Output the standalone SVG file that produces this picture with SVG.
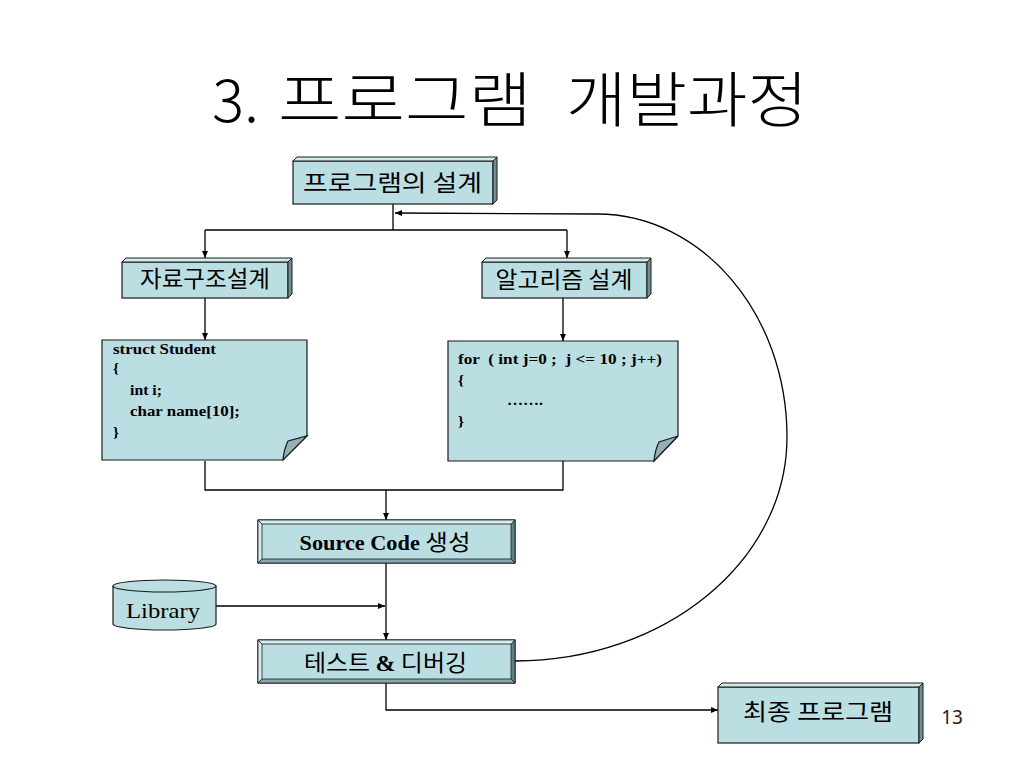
<svg xmlns="http://www.w3.org/2000/svg" width="1024" height="768" viewBox="0 0 1024 768">
<defs>
<marker id="arr" markerUnits="userSpaceOnUse" markerWidth="8" markerHeight="6" refX="7" refY="3" orient="auto">
<path d="M0,0 L7,3 L0,6 z" fill="#000"/>
</marker>
<style>
.face{fill:#BBDEE3;stroke:#1a1a1a;stroke-width:1.2}
.ctop{fill:#D3EAED;stroke:#1a1a1a;stroke-width:1}
.cside{fill:#6E8E93;stroke:#1a1a1a;stroke-width:1}
.blight{fill:#D7EDF0;stroke:#1a1a1a;stroke-width:0.8}
.bdark{fill:#5F7F84;stroke:#1a1a1a;stroke-width:0.8}
.bmid{fill:#89A8AD;stroke:#1a1a1a;stroke-width:0.8}
.flap{fill:#94B0B4;stroke:#1a1a1a;stroke-width:1.2}
.kr{font-family:"Noto Sans CJK KR","Noto Sans",sans-serif;font-size:23px;fill:#000}
.code{font-family:"Liberation Serif",serif;font-weight:bold;font-size:15px;fill:#000}
.ln{fill:none;stroke:#000;stroke-width:1.3}
.title{font-family:"Noto Sans CJK KR","Noto Sans",sans-serif;font-size:60px;font-weight:300;fill:#000}
</style>
</defs>
<rect width="1024" height="768" fill="#fff"/>
<g id="title">
<text class="title" x="212" y="122">3.</text>
<text class="title" x="278" y="122" textLength="254" lengthAdjust="spacingAndGlyphs">프로그램</text>
<text class="title" x="566" y="122" textLength="242" lengthAdjust="spacingAndGlyphs">개발과정</text>
</g>

<g id="connectors">
<path class="ln" d="M393,204 V230"/>
<path class="ln" d="M205,230 H567"/>
<path class="ln" d="M205,230 V258" marker-end="url(#arr)"/>
<path class="ln" d="M567,230 V258" marker-end="url(#arr)"/>
<path class="ln" d="M205,298 V340" marker-end="url(#arr)"/>
<path class="ln" d="M563,298 V341" marker-end="url(#arr)"/>
<path class="ln" d="M205,461 V490 H563 V461"/>
<path class="ln" d="M386,490 V520" marker-end="url(#arr)"/>
<path class="ln" d="M216,606 H385" marker-end="url(#arr)"/>
<path class="ln" d="M386,563 V640" marker-end="url(#arr)"/>
<path class="ln" d="M386,683 V710 H718" marker-end="url(#arr)"/>
<path class="ln" d="M515,661 C665,661 787,561 787,437 C787,314 702,214 597,214 L395,213" marker-end="url(#arr)"/>
</g>

<g id="node-design">
<rect class="face" x="293" y="161" width="200" height="43"/>
<polygon class="ctop" points="293,161 297,157 497,157 493,161"/>
<polygon class="cside" points="493,161 497,157 497,200 493,204"/>
<text class="kr" x="392.5" y="191" text-anchor="middle" textLength="179" lengthAdjust="spacingAndGlyphs">프로그램의 설계</text>
</g>

<g id="node-data">
<rect class="face" x="122" y="262" width="166" height="36"/>
<polygon class="ctop" points="122,262 126,258 292,258 288,262"/>
<polygon class="cside" points="288,262 292,258 292,294 288,298"/>
<text class="kr" x="205" y="287" text-anchor="middle" textLength="130" lengthAdjust="spacingAndGlyphs">자료구조설계</text>
</g>

<g id="node-algo">
<rect class="face" x="482" y="262" width="165" height="36"/>
<polygon class="ctop" points="482,262 486,258 651,258 647,262"/>
<polygon class="cside" points="647,262 651,258 651,294 647,298"/>
<text class="kr" x="564" y="288" text-anchor="middle" textLength="137" lengthAdjust="spacingAndGlyphs">알고리즘 설계</text>
</g>

<g id="note-struct">
<path class="face" d="M102,340 H307 V436 L283,460 H102 Z"/>
<path class="flap" d="M283,460 Q284,449 288,441 L307,436 Z"/>
<text class="code" x="113" y="354" textLength="103" lengthAdjust="spacingAndGlyphs">struct Student</text>
<text class="code" x="113" y="373">{</text>
<text class="code" x="130" y="395" textLength="32" lengthAdjust="spacingAndGlyphs">int i;</text>
<text class="code" x="130" y="416" textLength="110" lengthAdjust="spacingAndGlyphs">char name[10];</text>
<text class="code" x="113" y="437">}</text>
</g>

<g id="note-for">
<path class="face" d="M448,341 H678 V436 L654,461 H448 Z"/>
<path class="flap" d="M654,461 Q655,450 659,442 L678,436 Z"/>
<text class="code" x="458" y="364" textLength="204" lengthAdjust="spacingAndGlyphs" xml:space="preserve">for  ( int j=0 ;  j &lt;= 10 ; j++)</text>
<text class="code" x="458" y="385">{</text>
<text class="code" x="507" y="405" textLength="36" lengthAdjust="spacingAndGlyphs">…….</text>
<text class="code" x="458" y="426">}</text>
</g>

<g id="node-source">
<rect class="face" x="258" y="520" width="257" height="43"/>
<polygon class="blight" points="258,520 515,520 511,524 262,524"/>
<polygon class="blight" points="258,520 262,524 262,559 258,563"/>
<polygon class="bdark" points="515,520 515,563 511,559 511,524"/>
<polygon class="bmid" points="258,563 515,563 511,559 262,559"/>
<text x="385" y="550" text-anchor="middle" textLength="171" lengthAdjust="spacingAndGlyphs" font-family="'Liberation Serif','Noto Sans CJK KR',serif" font-weight="bold" font-size="20" fill="#000">Source Code <tspan font-family="'Noto Sans CJK KR',sans-serif" font-weight="normal" font-size="22">생성</tspan></text>
</g>

<g id="node-library">
<path class="face" d="M113,586 V624 A51.5,6 0 0 0 216,624 V586"/>
<ellipse class="face" cx="164.5" cy="586" rx="51.5" ry="6"/>
<text x="163" y="618" text-anchor="middle" textLength="74" lengthAdjust="spacingAndGlyphs" font-family="'Liberation Serif',serif" font-size="22" fill="#000">Library</text>
</g>

<g id="node-test">
<rect class="face" x="258" y="640" width="257" height="43"/>
<polygon class="blight" points="258,640 515,640 511,644 262,644"/>
<polygon class="blight" points="258,640 262,644 262,679 258,683"/>
<polygon class="bdark" points="515,640 515,683 511,679 511,644"/>
<polygon class="bmid" points="258,683 515,683 511,679 262,679"/>
<text class="kr" x="385.5" y="671" text-anchor="middle" textLength="163" lengthAdjust="spacingAndGlyphs">테스트 <tspan font-family="'Liberation Serif',serif" font-weight="bold">&amp;</tspan> 디버깅</text>
</g>

<g id="node-final">
<rect class="face" x="718" y="687" width="201" height="56"/>
<polygon class="ctop" points="718,687 722,683 923,683 919,687"/>
<polygon class="cside" points="919,687 923,683 923,739 919,743"/>
<text class="kr" x="818" y="720" text-anchor="middle" textLength="150" lengthAdjust="spacingAndGlyphs">최종 프로그램</text>
</g>

<text x="952" y="724" text-anchor="middle" font-family="'Noto Sans','Liberation Sans',sans-serif" font-size="19" fill="#222">13</text>
</svg>
